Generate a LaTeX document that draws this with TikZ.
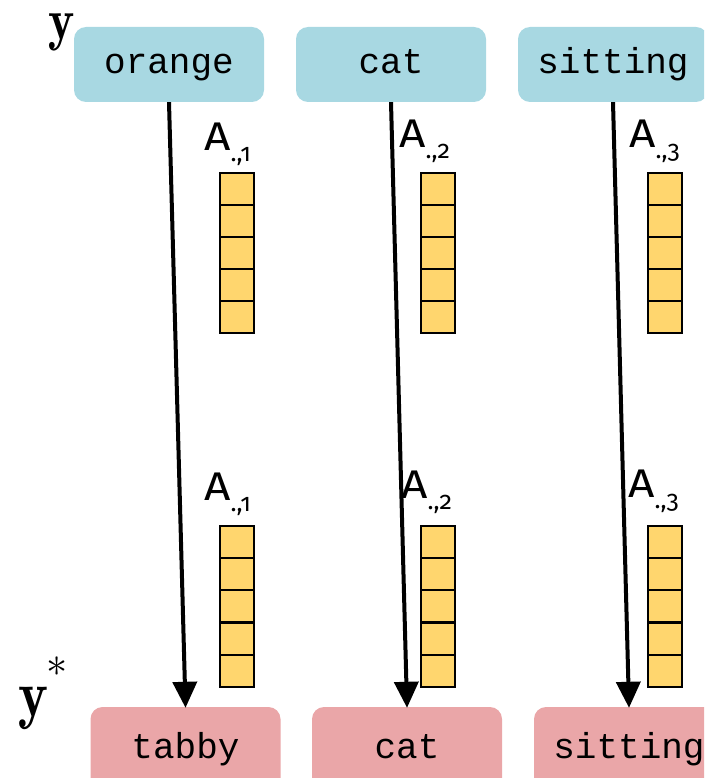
\documentclass[tikz,border=0pt]{standalone}
\usepackage{fontspec}
\setmonofont{Liberation Mono}
\newfontfamily\labfont[Numbers=OldStyle]{Fira Sans}
\usetikzlibrary{arrows.meta}
\definecolor{topblue}{RGB}{168,216,226}
\definecolor{botpink}{RGB}{234,166,168}
\definecolor{cellyellow}{RGB}{255,214,110}
\newcommand{\Alab}[1]{\scalebox{1.15}[1]{A}\raisebox{-11pt}{\fontsize{25}{28}\selectfont .,#1}}
\newcommand{\ysym}[1]{\fontsize{#1}{#1}\selectfont\scalebox{0.86}[1]{$\mathbf{y}$}}
\begin{document}
\begin{tikzpicture}[x=1pt,y=-1pt,
  word/.style={rounded corners=12pt, minimum width=190pt, inner sep=0pt,
    font=\fontsize{36}{40}\ttfamily, text height=19pt, text depth=0pt},
  topword/.style={word, fill=topblue, minimum height=75pt},
  botword/.style={word, fill=botpink, minimum height=84pt},
  cell/.style={draw=black, line width=2pt, fill=cellyellow, minimum width=34pt,
    minimum height=32pt, inner sep=0pt},
  lab/.style={font=\fontsize{40}{44}\labfont, anchor=base west, inner sep=0pt},
  arr/.style={line width=4pt, -{Triangle[length=26pt,width=24pt]}, shorten >=-1pt},
  ylab/.style={inner sep=0pt, anchor=base west}]
\useasboundingbox (0,0) rectangle (704,778);
\clip (0,0) rectangle (704,778);
% word boxes
\node[topword] (t1) at (169,64.5) {orange};
\node[topword] (t2) at (391,64.5) {cat};
\node[topword] (t3) at (613,64.5) {sitting};
\node[botword] (b1) at (185.5,749) {tabby};
\node[botword] (b2) at (407,749) {cat};
\node[botword] (b3) at (629,749) {sitting};
% y labels
\node[ylab] (ytop) at (48,40) {\ysym{58}};
\node[ylab] (ybot) at (18,716) {\ysym{66}\hspace{-2pt}\raisebox{40pt}{\scalebox{1.7}{$\ast$}}};
% attention columns
\foreach \x/\n in {237/1, 438/2, 665/3} {
  \foreach \i in {0,...,4} {
    \node[cell] (u\n\i) at (\x, 189+32*\i) {};
    \node[cell] (l\n\i) at (\x, 542+32.2*\i) {};
  }
}
% labels
\node[lab] (au1) at (204,150) {\Alab{1}};
\node[lab] (au2) at (399,148) {\Alab{2}};
\node[lab] (au3) at (629,148) {\Alab{3}};
\node[lab] (al1) at (204,500) {\Alab{1}};
\node[lab] (al2) at (401,498) {\Alab{2}};
\node[lab] (al3) at (628,497) {\Alab{3}};
% arrows
\draw[arr] (t1.south) -- (b1.north);
\draw[arr] (t2.south) -- (b2.north);
\draw[arr] (t3.south) -- (b3.north);
\end{tikzpicture}
\end{document}
